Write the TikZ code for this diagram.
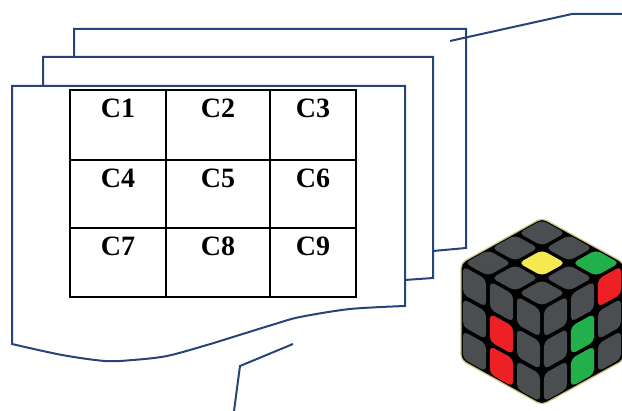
\documentclass[tikz,border=0pt]{standalone}
\usepackage{fontspec}
\setmainfont{Liberation Serif}
\definecolor{frameblue}{RGB}{38,68,120}
\definecolor{cubegray}{RGB}{75,78,80}
\definecolor{cubeyellow}{RGB}{245,232,80}
\definecolor{cubegreen}{RGB}{34,176,75}
\definecolor{cubered}{RGB}{237,32,36}
\definecolor{halo}{RGB}{205,196,130}
\newcommand\stk[3]{\fill[#3, sticker] (#1+0.07,#2+0.07) -- (#1+0.93,#2+0.07) -- (#1+0.93,#2+0.93) -- (#1+0.07,#2+0.93) -- cycle;}
\begin{document}
\begin{tikzpicture}[x=1pt,y=-1pt,
  frame/.style={draw=frameblue, line width=2pt, line join=miter},
  callout/.style={draw=frameblue, line width=2pt},
  cell/.style={draw=black, line width=1.8pt, inner sep=0pt},
  lbl/.style={font=\fontsize{28}{30}\selectfont\bfseries, anchor=base, inner sep=0pt},
  sticker/.style={rounded corners=5pt}]
\useasboundingbox (0,0) rectangle (622,411);
% stacked frames
\draw[frame] (74,56) -- (74,29) -- (466,29) -- (466,248) -- (433,251);
\draw[frame] (43,86) -- (43,57) -- (433,57) -- (433,278) -- (405,280);
\draw[frame] plot[smooth,tension=0.5] coordinates {(12,344) (62,355) (105,361) (133,360) (167,356) (207,345) (233,337) (275,324) (300,317) (350,309) (405,306)} -- (405,86) -- (12,86) -- cycle;
% grid
\node[cell, minimum width=96pt, minimum height=70pt] (c1) at (118,125) {};
\node[cell, minimum width=104pt, minimum height=70pt] (c2) at (218,125) {};
\node[cell, minimum width=86pt, minimum height=70pt] (c3) at (313,125) {};
\node[cell, minimum width=96pt, minimum height=68pt] (c4) at (118,194) {};
\node[cell, minimum width=104pt, minimum height=68pt] (c5) at (218,194) {};
\node[cell, minimum width=86pt, minimum height=68pt] (c6) at (313,194) {};
\node[cell, minimum width=96pt, minimum height=69pt] (c7) at (118,262.5) {};
\node[cell, minimum width=104pt, minimum height=69pt] (c8) at (218,262.5) {};
\node[cell, minimum width=86pt, minimum height=69pt] (c9) at (313,262.5) {};
\foreach \n in {1,...,9}{
  \node[lbl] (t\n) at ([yshift=-28pt]c\n.north) {C\n};
}
% callout lines
\coordinate (a1) at (450,41);
\coordinate (a2) at (572,14);
\coordinate (a3) at (622,14);
\draw[callout] (a1) -- (a2) -- (a3);
\coordinate (b1) at (293,344);
\coordinate (b2) at (240,366);
\coordinate (b3) at (234,411);
\draw[callout] (b1) -- (b2) -- (b3);
% cube body
\fill[black, draw=halo, line width=1.2pt, rounded corners=5pt] (542,218) -- (624,263) -- (624,360) -- (542,405) -- (461,360) -- (461,263) -- cycle;
% top face
\begin{scope}[shift={(461,263)}, x={(27pt,15pt)}, y={(27pt,-15pt)}]
  \foreach \i in {0,1,2}{\foreach \j in {0,1,2}{\stk{\i}{\j}{cubegray}}}
  \stk{1}{1}{cubeyellow}
  \stk{2}{2}{cubegreen}
\end{scope}
% left face
\begin{scope}[shift={(461,263)}, x={(27pt,-15pt)}, y={(0pt,-32.33pt)}]
  \foreach \i in {0,1,2}{\foreach \j in {0,1,2}{\stk{\i}{\j}{cubegray}}}
  \stk{1}{1}{cubered}
  \stk{1}{2}{cubered}
\end{scope}
% right face
\begin{scope}[shift={(542,308)}, x={(27pt,15pt)}, y={(0pt,-32.33pt)}]
  \foreach \i in {0,1,2}{\foreach \j in {0,1,2}{\stk{\i}{\j}{cubegray}}}
  \stk{1}{1}{cubegreen}
  \stk{1}{2}{cubegreen}
  \stk{2}{0}{cubered}
\end{scope}
\end{tikzpicture}
\end{document}
